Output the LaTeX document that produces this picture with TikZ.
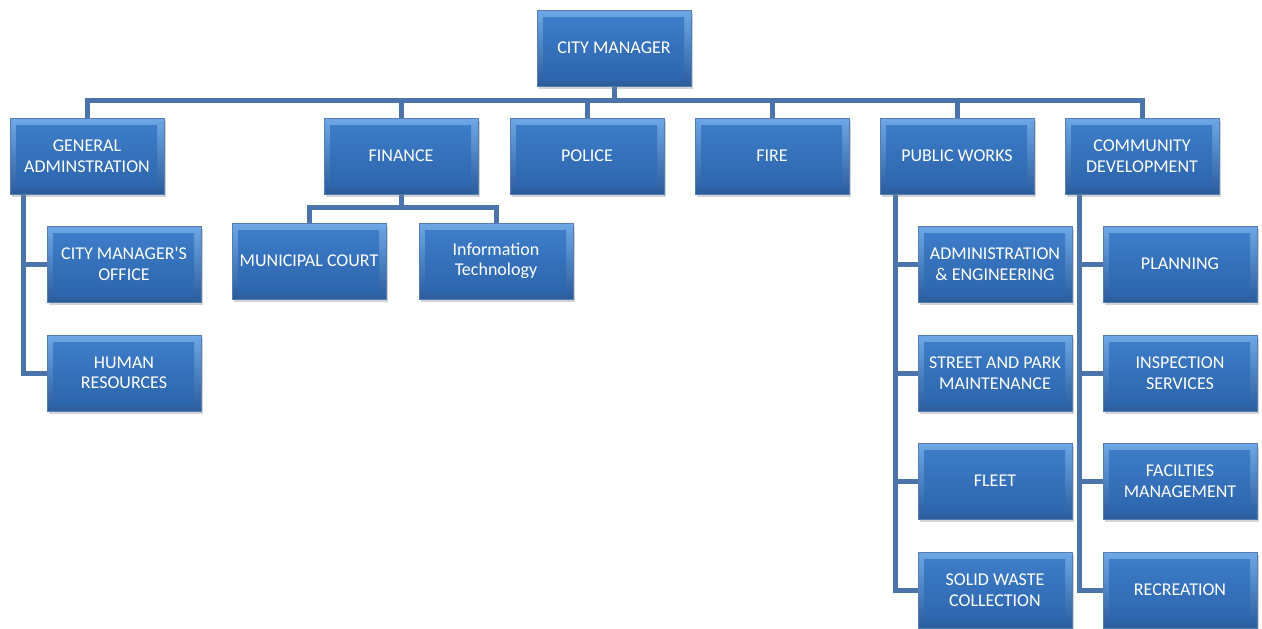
\documentclass[tikz,border=0pt]{standalone}
\usepackage{fontspec}
\newfontfamily\boxfont{Carlito}
\usetikzlibrary{shadows,backgrounds}
\definecolor{rimtop}{HTML}{6FA8E6}
\definecolor{rimbot}{HTML}{2A5C9C}
\definecolor{intop}{HTML}{3F7FCB}
\definecolor{inbot}{HTML}{2B63AA}
\definecolor{connc}{HTML}{4A74AA}
\tikzset{
  box/.style={minimum width=154pt, minimum height=76pt, inner sep=0pt,
    text=white, align=center, font=\boxfont\fontsize{18}{20.5}\selectfont,
    top color=rimtop, bottom color=rimbot, draw=rimbot!80, line width=0.6pt,
    drop shadow={shadow xshift=1.5pt, shadow yshift=-3pt, opacity=0.35},
    path picture={
      \fill[top color=intop, bottom color=inbot]
        ([shift={(6pt,-7pt)}]path picture bounding box.north west) rectangle
        ([shift={(-7pt,6pt)}]path picture bounding box.south east);
    }},
  conn/.style={draw=connc, line width=5pt, line join=miter}
}
\begin{document}
\begin{tikzpicture}[x=1pt,y=-1pt]
\useasboundingbox (0,0) rectangle (1262,629);
% boxes
\node[box] (cm)  at (614,48) {CITY MANAGER};
\node[box] (ga)  at (87,156) {GENERAL\\ADMINSTRATION};
\node[box] (fin) at (401,156) {FINANCE};
\node[box] (pol) at (587,156) {POLICE};
\node[box] (fire) at (772,156) {FIRE};
\node[box] (pw)  at (957,156) {PUBLIC WORKS};
\node[box] (cd)  at (1142,156) {COMMUNITY\\DEVELOPMENT};
\node[box] (mc)  at (309,261) {MUNICIPAL COURT};
\node[box] (it)  at (496,261) {Information\\Technology};
\node[box] (cmo) at (124,264) {CITY MANAGER'S\\OFFICE};
\node[box] (hr)  at (124,373) {HUMAN\\RESOURCES};
\node[box] (ae)  at (995,264) {ADMINISTRATION\\\& ENGINEERING};
\node[box] (sp)  at (995,373) {STREET AND PARK\\MAINTENANCE};
\node[box] (fl)  at (995,481) {FLEET};
\node[box] (sw)  at (995,590) {SOLID WASTE\\COLLECTION};
\node[box] (pl)  at (1180,264) {PLANNING};
\node[box] (is)  at (1180,373) {INSPECTION\\SERVICES};
\node[box] (fm)  at (1180,481) {FACILTIES\\MANAGEMENT};
\node[box] (rc)  at (1180,590) {RECREATION};
% connectors behind boxes
\begin{scope}[on background layer]
  \foreach \t in {ga,fin,pol,fire,pw,cd}
    \draw[conn] (cm.south) -- ++(0,14) -| (\t.north);
  \foreach \t in {mc,it}
    \draw[conn] (fin.south) -- ++(0,13) -| (\t.north);
  \foreach \t in {cmo,hr}
    \draw[conn] (ga.south west) ++(14,0) |- (\t.west);
  \foreach \t in {ae,sp,fl,sw}
    \draw[conn] (pw.south west) ++(16,0) |- (\t.west);
  \foreach \t in {pl,is,fm,rc}
    \draw[conn] (cd.south west) ++(15,0) |- (\t.west);
\end{scope}
\end{tikzpicture}
\end{document}
